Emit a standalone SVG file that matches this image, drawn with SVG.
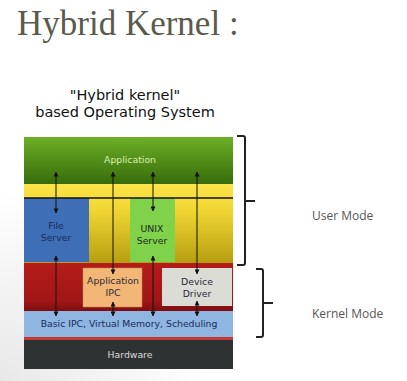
<svg xmlns="http://www.w3.org/2000/svg" width="407" height="381" viewBox="0 0 407 381">
<defs>
<linearGradient id="gApp" x1="0" y1="0" x2="0" y2="1"><stop offset="0" stop-color="#6cb026"/><stop offset="1" stop-color="#386c0c"/></linearGradient>
<linearGradient id="gYel" x1="0" y1="0" x2="0" y2="1"><stop offset="0" stop-color="#fbe44a"/><stop offset="0.3" stop-color="#f2d834"/><stop offset="1" stop-color="#b49c10"/></linearGradient>
<linearGradient id="gRed" x1="0" y1="0" x2="0" y2="1"><stop offset="0" stop-color="#b41c1a"/><stop offset="0.8" stop-color="#a01616"/><stop offset="1" stop-color="#7c0e10"/></linearGradient>
<radialGradient id="gBg" cx="0" cy="1" r="0.5"><stop offset="0" stop-color="#e8e8e8"/><stop offset="1" stop-color="#ffffff"/></radialGradient>
<marker id="ah" viewBox="0 0 6 6" refX="5.5" refY="3" markerWidth="5" markerHeight="5" orient="auto-start-reverse" markerUnits="userSpaceOnUse"><path d="M0,0 L6,3 L0,6 z" fill="#111"/></marker>
</defs>
<style>
.lbl{font-family:"DejaVu Sans",sans-serif;font-size:9.3px;text-anchor:middle}
.dk{fill:#2a2a3a}
.side{font-family:"Open Sans","Liberation Sans",sans-serif;font-size:12px;fill:#555}
.arr{stroke:#111;stroke-width:1;fill:none;marker-start:url(#ah);marker-end:url(#ah)}
.br{stroke:#222;stroke-width:2;fill:none;stroke-linejoin:round}
</style>
<rect width="407" height="381" fill="#fff"/>
<rect width="407" height="381" fill="url(#gBg)"/>
<text x="17" y="35" font-family="Liberation Serif, serif" font-size="35" fill="#5a5a4c">Hybrid Kernel :</text>
<text x="125" y="100" font-family="DejaVu Sans, sans-serif" font-size="14.5" text-anchor="middle" fill="#111">"Hybrid kernel"</text>
<text x="125" y="117" font-family="DejaVu Sans, sans-serif" font-size="14.5" text-anchor="middle" fill="#111">based Operating System</text>

<g id="application"><rect x="24" y="137" width="209" height="47" fill="url(#gApp)"/><text class="lbl" x="130" y="163" fill="#d8f0b0">Application</text></g>
<g id="yellow-band"><rect x="24" y="184" width="209" height="81" fill="url(#gYel)"/></g>
<g id="file-server"><rect x="24" y="198" width="65" height="64" fill="#3e6fb6"/><text class="lbl" x="56" y="229" fill="#1a2a60">File</text><text class="lbl" x="56" y="241" fill="#1a2a60">Server</text></g>
<g id="unix-server"><rect x="130" y="198" width="45" height="64" fill="#80d24a"/><text class="lbl" x="152" y="232" fill="#1a2a20">UNIX</text><text class="lbl" x="152" y="244" fill="#1a2a20">Server</text></g>
<g id="kernel-band"><rect x="24" y="263" width="209" height="48" fill="url(#gRed)"/></g>
<g id="application-ipc"><rect x="83" y="268" width="59" height="39" fill="#f2b676" stroke="#c88a50" stroke-width="0.5"/><text class="lbl dk" x="113" y="284">Application</text><text class="lbl dk" x="113" y="296">IPC</text></g>
<g id="device-driver"><rect x="162" y="268" width="70" height="38" fill="#dcdcd6"/><text class="lbl dk" x="197" y="285">Device</text><text class="lbl dk" x="197" y="297">Driver</text></g>
<g id="basic-ipc"><rect x="24" y="311" width="209" height="26" fill="#8eb6e0"/><text class="lbl" x="129" y="327" fill="#1a2a5a">Basic IPC, Virtual Memory, Scheduling</text></g>
<rect x="24" y="337" width="209" height="3" fill="#c43838"/>
<g id="hardware"><rect x="24" y="340" width="209" height="29" fill="#2f3232"/><text class="lbl" x="130" y="358" fill="#dcdcdc">Hardware</text></g>

<g id="connectors">
<line x1="24" y1="198" x2="233" y2="198" stroke="#111" stroke-width="1.5"/>
<line class="arr" x1="56" y1="172" x2="56" y2="213"/>
<line class="arr" x1="56" y1="256" x2="56" y2="316"/>
<line class="arr" x1="113" y1="172" x2="113" y2="274"/>
<line class="arr" x1="113" y1="302" x2="113" y2="316"/>
<line class="arr" x1="153" y1="172" x2="153" y2="211"/>
<line class="arr" x1="153" y1="256" x2="153" y2="316"/>
<line class="arr" x1="197" y1="172" x2="197" y2="274"/>
<line class="arr" x1="197" y1="301" x2="197" y2="316"/>
</g>

<g id="user-mode"><path class="br" d="M237,136 H243 Q245,136 245,138 V263 Q245,265 243,265 H237 M245,201 H255"/><text class="side" x="312" y="220">User Mode</text></g>
<g id="kernel-mode"><path class="br" d="M256,269 H261 Q263,269 263,271 V335 Q263,337 261,337 H256 M263,303 H273"/><text class="side" x="312" y="318">Kernel Mode</text></g>
</svg>
